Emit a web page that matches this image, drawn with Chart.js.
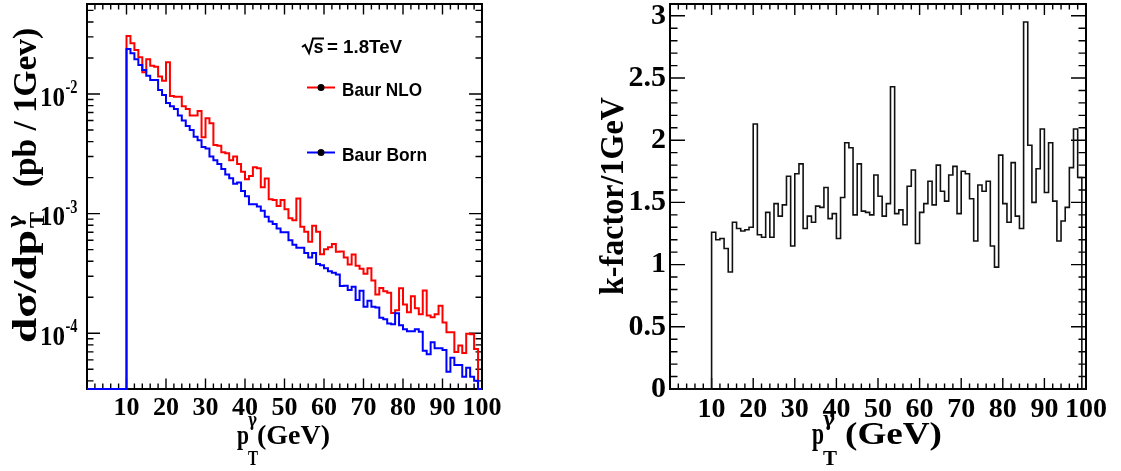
<!DOCTYPE html>
<html>
<head>
<meta charset="utf-8">
<script src="https://cdn.jsdelivr.net/npm/chart.js@4.4.1/dist/chart.umd.min.js"></script>
<style>
  html, body { margin: 0; padding: 0; background: #fff; }
  body { width: 1121px; height: 471px; position: relative; overflow: hidden; }
  canvas { position: absolute; top: 0; }
  #spectrum { left: 0; }
  #kfactor { left: 560px; }
</style>
</head>
<body>
<canvas id="spectrum" width="560" height="471"></canvas>
<canvas id="kfactor" width="561" height="471"></canvas>
<script>
"use strict";

// 1 GeV bins: lower edges 0..99, then the upper edge of the last bin
var ptEdges = [
  0, 1, 2, 3, 4, 5, 6, 7, 8, 9,
  10, 11, 12, 13, 14, 15, 16, 17, 18, 19,
  20, 21, 22, 23, 24, 25, 26, 27, 28, 29,
  30, 31, 32, 33, 34, 35, 36, 37, 38, 39,
  40, 41, 42, 43, 44, 45, 46, 47, 48, 49,
  50, 51, 52, 53, 54, 55, 56, 57, 58, 59,
  60, 61, 62, 63, 64, 65, 66, 67, 68, 69,
  70, 71, 72, 73, 74, 75, 76, 77, 78, 79,
  80, 81, 82, 83, 84, 85, 86, 87, 88, 89,
  90, 91, 92, 93, 94, 95, 96, 97, 98, 99,
  100
];

// d(sigma)/dpT, pb per GeV, Baur Born
var bornXsec = [
  0, 0, 0, 0, 0, 0, 0, 0, 0, 0,
  0.0238, 0.0219, 0.0195, 0.0175, 0.0159, 0.0142, 0.0131, 0.0131, 0.0108, 0.0098,
  0.0084, 0.0079, 0.0075, 0.0066, 0.0060, 0.0054, 0.0050, 0.0044, 0.0041, 0.0036,
  0.0035, 0.0030, 0.0028, 0.0026, 0.00236, 0.00212, 0.00198, 0.00178, 0.00182, 0.00155,
  0.00140, 0.00120, 0.00120, 0.00115, 0.00106, 0.00094, 0.00086, 0.00082, 0.00075, 0.00070,
  0.00070, 0.00060, 0.00055, 0.00052, 0.00052, 0.00047, 0.00043, 0.00047, 0.00038, 0.00037,
  0.00035, 0.00033, 0.00032, 0.00031, 0.000248, 0.000250, 0.000230, 0.000245, 0.000190, 0.000227,
  0.000167, 0.000187, 0.000167, 0.000164, 0.000135, 0.000131, 0.000121, 0.000119, 0.000147, 0.000117,
  0.000108, 0.000104, 0.000104, 0.000108, 0.000103, 0.0000716, 0.0000667, 0.0000841, 0.0000749, 0.0000749,
  0.0000724, 0.0000478, 0.0000625, 0.0000543, 0.0000543, 0.0000434, 0.0000515, 0.0000434, 0.0000402, 0
];

// d(sigma)/dpT, pb per GeV, Baur NLO
var nloXsec = [
  0, 0, 0, 0, 0, 0, 0, 0, 0, 0,
  0.0306, 0.0265, 0.0233, 0.0203, 0.0152, 0.0195, 0.0172, 0.0169, 0.0140, 0.0129,
  0.0184, 0.0096, 0.0095, 0.0095, 0.0079, 0.0075, 0.0066, 0.0066, 0.0072, 0.00435,
  0.00626, 0.00569, 0.00375, 0.0037, 0.00326, 0.0032, 0.0028, 0.0030, 0.00260, 0.00224,
  0.00194, 0.00206, 0.00244, 0.0024, 0.00166, 0.00197, 0.00132, 0.00130, 0.00116, 0.00130,
  0.00109, 0.000914, 0.00088, 0.00134, 0.000778, 0.000707, 0.000583, 0.000793, 0.000707, 0.000457,
  0.000503, 0.000523, 0.000557, 0.000481, 0.000482, 0.000430, 0.000375, 0.000455, 0.000367, 0.000346,
  0.000315, 0.000350, 0.000276, 0.000211, 0.000239, 0.000225, 0.000218, 0.000148, 0.000156, 0.000238,
  0.000174, 0.000150, 0.000204, 0.000162, 0.000144, 0.000228, 0.000141, 0.000136, 0.000144, 0.000170,
  0.000123, 0.000102, 0.000102, 0.0000698, 0.0000792, 0.0000685, 0.0000990, 0.0000980, 0.0000738, 0
];

// NLO / Born per bin
var kFactor = [
  0, 0, 0, 0, 0, 0, 0, 0, 0, 0,
  1.26, 1.20, 1.21, 1.13, 0.94, 1.34, 1.29, 1.27, 1.28, 1.30,
  2.13, 1.24, 1.22, 1.42, 1.22, 1.49, 1.39, 1.48, 1.71, 1.15,
  1.73, 1.81, 1.29, 1.39, 1.34, 1.47, 1.46, 1.62, 1.37, 1.41,
  1.21, 1.54, 1.98, 1.94, 1.40, 1.81, 1.43, 1.42, 1.40, 1.72,
  1.55, 1.39, 1.49, 2.43, 1.41, 1.44, 1.32, 1.63, 1.76, 1.17,
  1.42, 1.49, 1.67, 1.48, 1.80, 1.59, 1.51, 1.72, 1.79, 1.41,
  1.75, 1.73, 1.53, 1.19, 1.64, 1.59, 1.67, 1.15, 0.98, 1.88,
  1.49, 1.34, 1.82, 1.39, 1.29, 2.95, 1.96, 1.50, 1.77, 2.09,
  1.58, 1.98, 1.51, 1.19, 1.35, 1.46, 1.78, 2.09, 1.70, 0
];

var ptTickLabels = [10, 20, 30, 40, 50, 60, 70, 80, 90, 100];
var kTickLabels = [0, 0.5, 1, 1.5, 2, 2.5, 3];
var xsecDecades = [-2, -3, -4];

var SERIF = '"Liberation Serif", "Times New Roman", serif';
var SANS = '"Liberation Sans", Arial, sans-serif';
var GREEK = '"DejaVu Serif", serif';
var XSEC_MIN = 3.424e-5, XSEC_MAX = 0.05652, K_MAX = 3.095;

// step outline of a histogram; empty bins sit on the lower frame
function histPoints(vals, floor) {
  var pts = vals.map(function (v, i) {
    return {x: ptEdges[i], y: v > 0 ? v : floor};
  });
  pts.push({x: ptEdges[vals.length], y: pts[pts.length - 1].y});
  return pts;
}

function fitText(ctx, str, x, y, width, size, family) {
  ctx.font = "bold " + size + "px " + (family || SERIF);
  var w = ctx.measureText(str).width;
  ctx.save();
  ctx.translate(x, y);
  ctx.scale(width / w, 1);
  ctx.fillText(str, 0, 0);
  ctx.restore();
}

// ROOT style frame, ticks pointing inwards on all four sides
function drawFrame(chart, xLen, yTicks) {
  var ctx = chart.ctx, a = chart.chartArea, xs = chart.scales.x, ys = chart.scales.y;
  ctx.save();
  ctx.strokeStyle = "#000";
  ctx.lineWidth = 1.4;
  ctx.beginPath();
  for (var v = 0; v <= 100; v += 2) {
    var px = xs.getPixelForValue(v), len = v % 10 === 0 ? xLen[0] : xLen[1];
    ctx.moveTo(px, a.bottom); ctx.lineTo(px, a.bottom - len);
    ctx.moveTo(px, a.top); ctx.lineTo(px, a.top + len);
  }
  yTicks.forEach(function (t) {
    var py = ys.getPixelForValue(t[0]);
    ctx.moveTo(a.left, py); ctx.lineTo(a.left + t[1], py);
    ctx.moveTo(a.right, py); ctx.lineTo(a.right - t[1], py);
  });
  ctx.stroke();
  ctx.lineWidth = 2;
  ctx.strokeRect(a.left, a.top, a.right - a.left, a.bottom - a.top);
  ctx.restore();
}

function logTicks() {
  var out = [];
  for (var e = -5; e <= -1; e++) {
    for (var m = 1; m <= 9; m++) {
      var v = m * Math.pow(10, e);
      if (v >= XSEC_MIN && v <= XSEC_MAX) out.push([v, m === 1 ? 13 : 6.5]);
    }
  }
  return out;
}

function linTicks() {
  var out = [];
  for (var i = 0; i <= 30; i++) out.push([i / 10, i % 5 === 0 ? 15 : 7.5]);
  return out;
}

function ptAxis(size, pad) {
  return {
    type: "linear", min: 0, max: 100,
    afterBuildTicks: function (s) {
      s.ticks = ptTickLabels.map(function (v) { return {value: v}; });
    },
    afterFit: function (s) { s.height = 82; s.paddingLeft = 0; s.paddingRight = 0; },
    grid: {display: false, drawTicks: false},
    border: {display: false},
    ticks: {
      color: "#000", padding: pad, autoSkip: false, maxRotation: 0, minRotation: 0,
      font: {family: SERIF, size: size, weight: "bold"}
    }
  };
}

function histDataset(label, vals, color, width, floor) {
  return {
    label: label, data: histPoints(vals, floor), borderColor: color, borderWidth: width,
    stepped: true, pointRadius: 0, fill: false, clip: false, tension: 0
  };
}

var spectrumPlugin = {
  id: "spectrumDeco",
  beforeDatasetsDraw: function (chart) { drawFrame(chart, [10.5, 5.5], logTicks()); },
  afterDraw: function (chart) {
    var ctx = chart.ctx, ys = chart.scales.y;
    ctx.save();
    ctx.fillStyle = "#000";
    ctx.textBaseline = "alphabetic";
    xsecDecades.forEach(function (d) {
      var py = ys.getPixelForValue(Math.pow(10, d));
      fitText(ctx, "10", 40, py + 11.5, 25, 28);
      fitText(ctx, String(d), 65.5, py - 1, 12, 19);
    });

    // y title, read bottom to top
    ctx.save();
    ctx.translate(36, 343);
    ctx.rotate(-Math.PI / 2);
    fitText(ctx, "d\u03c3/dp", 0, 0, 113, 33);
    fitText(ctx, "T", 115, 8, 16, 22);
    fitText(ctx, "\u03b3", 115, -14, 13, 21, GREEK);
    fitText(ctx, "(pb / 1Gev)", 156, 0, 159, 33);
    ctx.restore();

    fitText(ctx, "p", 237, 444, 12, 28);
    fitText(ctx, "T", 248, 465, 10, 20);
    fitText(ctx, "\u03b3", 248, 426, 9, 18, GREEK);
    fitText(ctx, "(GeV)", 257, 444, 73, 28);

    // sqrt(s) label
    ctx.strokeStyle = "#000";
    ctx.lineWidth = 2;
    ctx.beginPath();
    ctx.moveTo(302, 47); ctx.lineTo(305, 45); ctx.lineTo(309, 53);
    ctx.lineTo(313, 38.5); ctx.lineTo(324, 38.5);
    ctx.stroke();
    fitText(ctx, "s", 313.5, 52.5, 10, 18, SANS);
    fitText(ctx, "= 1.8TeV", 327, 52.5, 75, 18, SANS);

    // legend: NLO first, then Born
    var rows = [[chart.data.datasets[1], 87.5, 96, 80], [chart.data.datasets[0], 152.5, 161, 85]];
    rows.forEach(function (r) {
      ctx.strokeStyle = r[0].borderColor;
      ctx.lineWidth = 2;
      ctx.beginPath(); ctx.moveTo(307, r[1]); ctx.lineTo(335, r[1]); ctx.stroke();
      ctx.fillStyle = "#000";
      ctx.beginPath(); ctx.arc(321, r[1], 3.5, 0, Math.PI * 2); ctx.fill();
      fitText(ctx, r[0].label, 342, r[2], r[3], 19, SANS);
    });
    ctx.restore();
  }
};

var kPlugin = {
  id: "kDeco",
  beforeDatasetsDraw: function (chart) { drawFrame(chart, [11, 5.5], linTicks()); },
  afterDraw: function (chart) {
    var ctx = chart.ctx;
    ctx.save();
    ctx.fillStyle = "#000";
    ctx.textBaseline = "alphabetic";
    ctx.save();
    ctx.translate(63, 295);
    ctx.rotate(-Math.PI / 2);
    fitText(ctx, "k-factor/1GeV", 0, 0, 198, 34);
    ctx.restore();

    fitText(ctx, "p", 252, 444, 12, 31);
    fitText(ctx, "T", 263, 465, 14, 21);
    fitText(ctx, "\u03b3", 263, 426, 12, 20, GREEK);
    fitText(ctx, "(GeV)", 285, 444, 97, 31);
    ctx.restore();
  }
};

function buildSpectrumChart() {
  new Chart(document.getElementById("spectrum"), {
    type: "line",
    data: {
      datasets: [
        histDataset("Baur Born", bornXsec, "#0000ff", 2, XSEC_MIN),
        histDataset("Baur NLO", nloXsec, "#ff0000", 2, XSEC_MIN)
      ]
    },
    options: {
      responsive: false, animation: false, events: [],
      layout: {padding: {left: 0, top: 4, right: 78, bottom: 0}},
      plugins: {legend: {display: false}, tooltip: {enabled: false}},
      scales: {
        x: ptAxis(26, 4),
        y: {
          type: "logarithmic", min: XSEC_MIN, max: XSEC_MAX,
          afterFit: function (s) { s.width = 87; s.paddingTop = 0; s.paddingBottom = 0; },
          grid: {display: false, drawTicks: false},
          border: {display: false},
          ticks: {display: false}
        }
      }
    },
    plugins: [spectrumPlugin]
  });
}

function buildKFactorChart() {
  new Chart(document.getElementById("kfactor"), {
    type: "line",
    data: {datasets: [histDataset("k-factor", kFactor, "#111111", 1.6, 0)]},
    options: {
      responsive: false, animation: false, events: [],
      layout: {padding: {left: 0, top: 4, right: 35, bottom: 0}},
      plugins: {legend: {display: false}, tooltip: {enabled: false}},
      scales: {
        x: ptAxis(28, 4),
        y: {
          type: "linear", min: 0, max: K_MAX,
          afterBuildTicks: function (s) {
            s.ticks = kTickLabels.map(function (v) { return {value: v}; });
          },
          afterFit: function (s) { s.width = 110; s.paddingTop = 0; s.paddingBottom = 0; },
          grid: {display: false, drawTicks: false},
          border: {display: false},
          ticks: {
            color: "#000", padding: 4,
            font: {family: SERIF, size: 30, weight: "bold"},
            callback: function (v) { return String(v); }
          }
        }
      }
    },
    plugins: [kPlugin]
  });
}

buildSpectrumChart();
buildKFactorChart();
</script>
</body>
</html>
